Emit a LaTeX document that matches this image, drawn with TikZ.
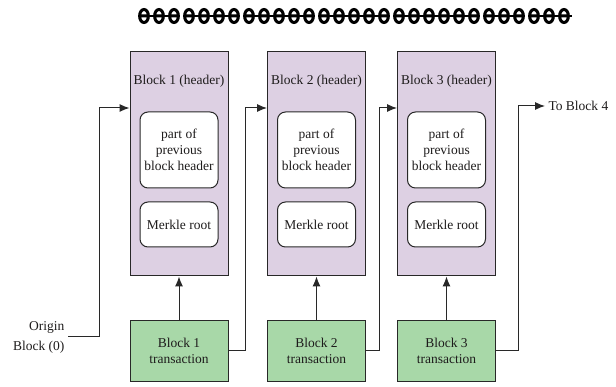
\documentclass[tikz,border=0pt]{standalone}
\usepackage{fontspec}
\setmainfont{Liberation Serif}
\usetikzlibrary{arrows.meta}
\definecolor{hdrfill}{RGB}{221,208,227}
\definecolor{txfill}{RGB}{168,216,168}
\definecolor{edge}{RGB}{40,40,40}
\definecolor{ink}{RGB}{30,28,28}
\tikzset{>={Latex[length=10pt,width=8pt]}}
\tikzset{
    txt/.style={font=\fontsize{13.5}{16}\selectfont, text=ink},
    hdr/.style={draw=edge, line width=1pt, fill=hdrfill, minimum width=98pt, minimum height=224pt},
    inbox/.style={txt, draw=edge, line width=1pt, fill=white, rounded corners=8pt, minimum width=78pt, align=center, inner sep=0pt},
    txbox/.style={txt, draw=edge, line width=1pt, fill=txfill, minimum width=98pt, minimum height=60pt, align=center, inner sep=0pt},
    link/.style={draw=edge, line width=1pt, ->}
}

\begin{document}
\begin{tikzpicture}[x=1pt, y=-1pt]
    \useasboundingbox (0,0) rectangle (616,387);

    \foreach \i in {0,...,28}
        \draw[line width=3pt] (144+15*\i,16) ellipse (4.4 and 6.5)
            (140.5+15*\i,16) -- (147.5+15*\i,16);
    \foreach \i in {0,...,27}{
        \ifnum\i=2 \else\ifnum\i=6 \else\ifnum\i=11 \else\ifnum\i=16 \else\ifnum\i=22 \else\ifnum\i=25 \else
        \draw[line width=2.4pt] (147+15*\i,16) -- (156+15*\i,16);
        \fi\fi\fi\fi\fi\fi}
    \draw[line width=2.4pt] (564,16) -- (572,16);

    \node[hdr] (hdr1) at (179,164) {};
    \node[hdr] (hdr2) at (316.5,164) {};
    \node[hdr] (hdr3) at (446.5,164) {};
    \node[txt] (ttl1) at (179,81) {Block 1 (header)};
    \node[txt] (ttl2) at (316.5,81) {Block 2 (header)};
    \node[txt] (ttl3) at (446.5,81) {Block 3 (header)};

    \node[inbox, minimum height=76pt] (prev1) at (179,150) {part of\\previous\\block header};
    \node[inbox, minimum height=76pt] (prev2) at (316.5,150) {part of\\previous\\block header};
    \node[inbox, minimum height=76pt] (prev3) at (446.5,150) {part of\\previous\\block header};
    \node[inbox, minimum height=45pt] (mrk1) at (179,224.5) {Merkle root};
    \node[inbox, minimum height=45pt] (mrk2) at (316.5,224.5) {Merkle root};
    \node[inbox, minimum height=45pt] (mrk3) at (446.5,224.5) {Merkle root};

    \node[txbox] (tx1) at (179,351) {Block 1\\transaction};
    \node[txbox] (tx2) at (316.5,351) {Block 2\\transaction};
    \node[txbox] (tx3) at (446.5,351) {Block 3\\transaction};

    \node[txt, anchor=east, align=right] (origin) at (68,337) {Origin\\[4pt]Block (0)};
    \node[txt, anchor=west] (next) at (545,106) {To Block 4};

    \coordinate (in1) at (hdr1.west |- 0,108);
    \coordinate (in2) at (hdr2.west |- 0,108);
    \coordinate (in3) at (hdr3.west |- 0,108);

    \draw[link] (tx1) -- (hdr1);
    \draw[link] (tx2) -- (hdr2);
    \draw[link] (tx3) -- (hdr3);
    \draw[link] (origin.east) -| ([xshift=-30pt]in1) -- (in1);
    \draw[link] (tx1.east) -| ([xshift=-22pt]in2) -- (in2);
    \draw[link] (tx2.east) -| ([xshift=-18pt]in3) -- (in3);
    \draw[link] (tx3.east) -| ([xshift=-27pt]next.west) -- (next.west);
\end{tikzpicture}
\end{document}
